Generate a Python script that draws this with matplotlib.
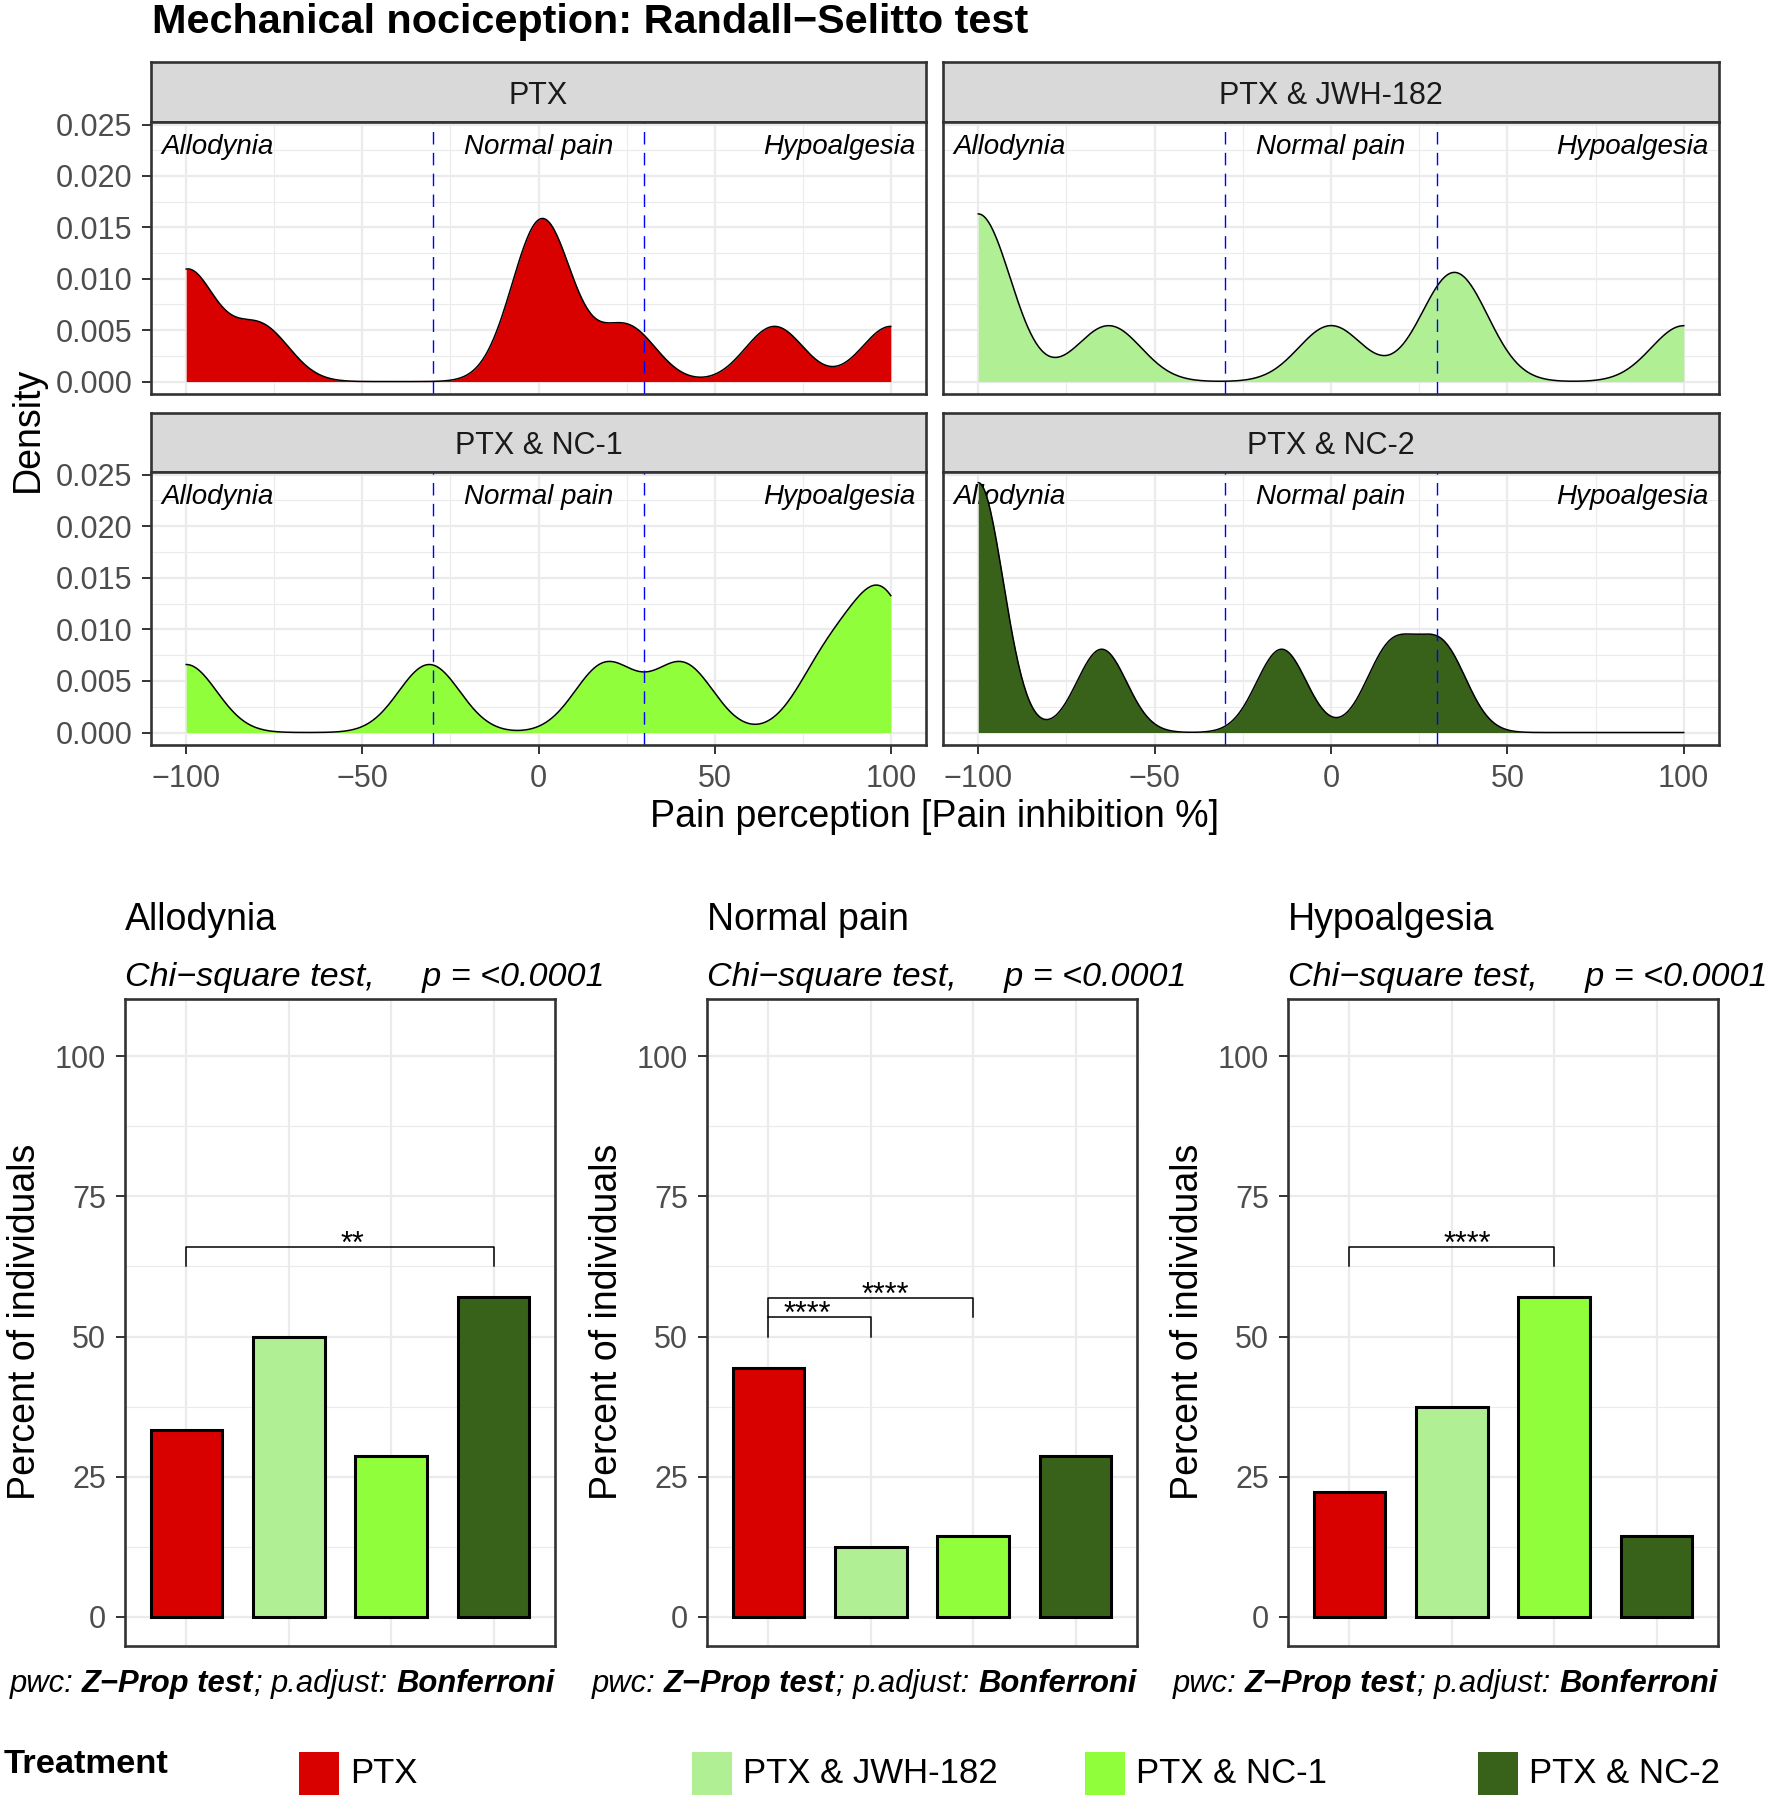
import numpy as np
import matplotlib
matplotlib.use('Agg')
import matplotlib.pyplot as plt
from matplotlib.patches import Rectangle

plt.rcParams['font.family'] = ['Liberation Sans', 'DejaVu Sans']

W, H, DPI = 1772, 1798, 100

# ---------------- data ----------------
groups = ['PTX', 'PTX & JWH-182', 'PTX & NC-1', 'PTX & NC-2']
colors = ['#D90000', '#B1EF95', '#91FE3B', '#386219']

# pain inhibition (%) of individual animals, per treatment
obs_ptx = [-100, -100, -79, -1, 1, 3, 25, 67, 100]
obs_jwh = [-100, -100, -100, -63, 0, 33, 37, 100]
obs_nc1 = [-100, -31, 19, 41, 82, 96, 100]
obs_nc2 = [-100, -100, -100, -65, -14, 17, 31.5]
bw_adjust = 0.2
x_range = (-100, 100)
thresholds = [-30, 30]
zone_labels = ['Allodynia', 'Normal pain', 'Hypoalgesia']

categories = ['Allodynia', 'Normal pain', 'Hypoalgesia']
allodynia_pct = [33.3, 50.0, 28.6, 57.1]
normal_pct = [44.4, 12.5, 14.3, 28.6]
hypo_pct = [22.2, 37.5, 57.1, 14.3]
p_value_text = '<0.0001'
# (group a, group b, bracket height, label, label x)
brackets_allodynia = [(1, 4, 66.0, '**', 2.62)]
brackets_normal = [(1, 2, 53.4, '****', 1.38), (1, 3, 56.9, '****', 2.14)]
brackets_hypo = [(1, 3, 66.0, '****', 2.15)]
tip_length = 3.5

# ---------------- helpers ----------------
fig = plt.figure(figsize=(W / DPI, H / DPI), dpi=DPI)
PX = 72.0 / DPI  # points per pixel


def px_axes(x0, y0, x1, y1):
    return fig.add_axes([x0 / W, 1 - y1 / H, (x1 - x0) / W, (y1 - y0) / H])


def fx(x):
    return x / W


def fy(y):
    return 1 - y / H


def nrd0(x):
    x = np.asarray(x, float)
    sd = x.std(ddof=1)
    q75, q25 = np.percentile(x, [75, 25])
    lo = min(sd, (q75 - q25) / 1.34)
    return 0.9 * lo * len(x) ** -0.2


def kde(x, grid, bw):
    x = np.asarray(x, float)
    z = (grid[:, None] - x[None, :]) / bw
    return np.exp(-0.5 * z ** 2).sum(axis=1) / (len(x) * bw * np.sqrt(2 * np.pi))


BORDER = '#333333'
GRID = '#EBEBEB'
TICKLAB = '#4D4D4D'


def style_panel(ax):
    for s in ax.spines.values():
        s.set_color(BORDER)
        s.set_linewidth(1.9)
        s.set_zorder(10)
    ax.set_axisbelow(True)
    ax.grid(which='major', color=GRID, lw=1.6)
    ax.grid(which='minor', color=GRID, lw=0.8)
    ax.tick_params(which='minor', length=0)
    ax.tick_params(which='major', length=6.5, width=1.4, color=BORDER,
                   labelcolor=TICKLAB, labelsize=22, pad=7)


# ---------------- title ----------------
fig.text(fx(152), fy(33), 'Mechanical nociception: Randall\u2212Selitto test',
         fontsize=29.8, weight='bold', ha='left', va='baseline')

# ---------------- density panels ----------------
obs_all = [obs_ptx, obs_jwh, obs_nc1, obs_nc2]
cols = [(151, 926), (943, 1719)]
rows = [(62, 122, 394), (413, 472, 745)]
grid_x = np.linspace(x_range[0], x_range[1], 512)

for i, (g, obs) in enumerate(zip(groups, obs_all)):
    r, c = divmod(i, 2)
    x0, x1 = cols[c]
    sy0, sy1, py1 = rows[r]
    strip = px_axes(x0, sy0, x1, sy1)
    strip.set_facecolor('#D9D9D9')
    strip.set_xticks([])
    strip.set_yticks([])
    for s in strip.spines.values():
        s.set_color(BORDER)
        s.set_linewidth(1.9)
    strip.text(0.5, 0.3, g, transform=strip.transAxes, ha='center', va='baseline',
               fontsize=22, color='#1A1A1A')

    ax = px_axes(x0, sy1, x1, py1)
    style_panel(ax)
    ax.set_xlim(-110, 110)
    ax.set_ylim(-0.00121, 0.02525)
    ax.set_xticks([-100, -50, 0, 50, 100])
    ax.set_xticks([-75, -25, 25, 75], minor=True)
    ax.set_yticks([0, 0.005, 0.01, 0.015, 0.02, 0.025])
    ax.set_yticks([0.0025, 0.0075, 0.0125, 0.0175, 0.0225], minor=True)
    ax.set_yticklabels(['%.3f' % v for v in [0, 0.005, 0.01, 0.015, 0.02, 0.025]])
    if c == 1:
        ax.tick_params(axis='y', left=False, labelleft=False)
    if r == 0:
        ax.tick_params(axis='x', bottom=False, labelbottom=False)

    bw = nrd0(obs) * bw_adjust
    dens = kde(obs, grid_x, bw)
    ax.fill_between(grid_x, 0, dens, color=colors[i], lw=0, zorder=2)
    ax.plot(grid_x, dens, color='black', lw=1.1, zorder=3)
    for t in thresholds:
        ax.axvline(t, color='#0000FF', lw=1.0, dashes=(9, 6), zorder=4)
    ax.text(-107, 0.0221, zone_labels[0], ha='left', va='baseline',
            style='italic', fontsize=20, zorder=1)
    ax.text(0, 0.0221, zone_labels[1], ha='center', va='baseline',
            style='italic', fontsize=20, zorder=1)
    ax.text(107, 0.0221, zone_labels[2], ha='right', va='baseline',
            style='italic', fontsize=20, zorder=1)

fig.text(fx(28), fy(429), 'Density', rotation=90, fontsize=27,
         ha='center', va='center')
fig.text(fx(935), fy(827), 'Pain perception [Pain inhibition %]', fontsize=27,
         ha='center', va='baseline')

# ---------------- bar panels ----------------
bar_cols = [(125, 555), (707, 1137), (1288, 1718)]
pcts = [allodynia_pct, normal_pct, hypo_pct]
brks = [brackets_allodynia, brackets_normal, brackets_hypo]
xpos = np.arange(1, len(groups) + 1)

renderer = fig.canvas.get_renderer()


def rich_right(pieces, x_right, y_base, size):
    space = 0.278 * size / PX
    texts, widths = [], []
    for s, st, wt, sp in pieces:
        t = fig.text(0, 0, s, fontsize=size, style=st, weight=wt,
                     ha='left', va='baseline')
        texts.append(t)
        widths.append(t.get_window_extent(renderer).width + (space if sp else 0))
    x = x_right - sum(widths)
    for t, w in zip(texts, widths):
        t.set_position((fx(x), fy(y_base)))
        x += w


for k, (cat, vals, blist) in enumerate(zip(categories, pcts, brks)):
    bx0, bx1 = bar_cols[k]
    ax = px_axes(bx0, 999, bx1, 1646)
    style_panel(ax)
    ax.bar(xpos, vals, width=0.7, color=colors, edgecolor='black', lw=2.2, zorder=2)
    ax.set_xlim(0.4, 4.6)
    ax.set_ylim(-5.25, 110.25)
    ax.set_xticks(xpos)
    ax.tick_params(axis='x', length=0, labelbottom=False)
    ax.set_yticks([0, 25, 50, 75, 100])
    ax.set_yticks([12.5, 37.5, 62.5, 87.5], minor=True)
    for (a, b, yb, lab, lx) in blist:
        ax.plot([a, a, b, b], [yb - tip_length, yb, yb, yb - tip_length],
                color='black', lw=1.1, zorder=3)
        ax.text(lx, yb - 1.0, lab, ha='center', va='baseline', fontsize=22, zorder=3)

    fig.text(fx(bx0), fy(930), cat, fontsize=27, ha='left', va='baseline')
    fig.text(fx(bx0), fy(986), 'Chi\u2212square test,     p = ' + p_value_text,
             fontsize=24.6, style='italic', ha='left', va='baseline')
    fig.text(fx(bx0 - 100), fy(1322), 'Percent of individuals', rotation=90,
             fontsize=27, ha='center', va='center')
    rich_right([('pwc:', 'italic', 'normal', True),
                ('Z\u2212Prop test', 'italic', 'bold', False),
                (';', 'italic', 'normal', True),
                ('p.adjust:', 'italic', 'normal', True),
                ('Bonferroni', 'italic', 'bold', False)],
               bx1, 1692, 22.3)

# ---------------- legend ----------------
fig.text(fx(4), fy(1773), 'Treatment', fontsize=24.8, weight='bold',
         ha='left', va='baseline')
key_x = [299, 692, 1085, 1478]
for kx, g, col in zip(key_x, groups, colors):
    fig.patches.append(Rectangle((fx(kx), fy(1795)), 40 / W, 43 / H,
                                 transform=fig.transFigure, facecolor=col,
                                 edgecolor='none'))
    fig.text(fx(kx + 51), fy(1783), g, fontsize=25, ha='left', va='baseline')

fig.savefig('out.png', dpi=DPI)
